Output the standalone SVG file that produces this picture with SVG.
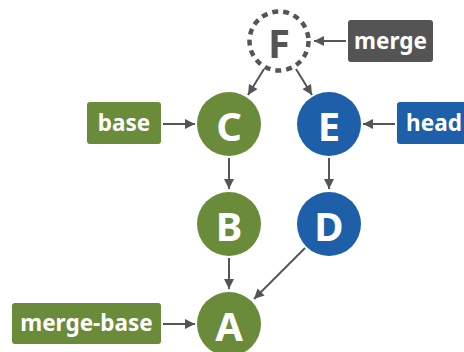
<svg xmlns="http://www.w3.org/2000/svg" width="464" height="352" viewBox="0 0 464 352">
  <style>
    .green { fill: #6a8b3a; }
    .blue { fill: #1e5fa9; }
    .gray { fill: #545454; }
    .node-label { font-family: "Noto Sans", "Open Sans", sans-serif; font-weight: 700; font-size: 40px; fill: #ffffff; text-anchor: middle; dominant-baseline: central; }
    .tag-label { font-family: "Noto Sans", "Open Sans", sans-serif; font-weight: 700; font-size: 22.5px; fill: #ffffff; text-anchor: middle; dominant-baseline: central; }
    .edge { stroke: #555555; stroke-width: 2; fill: none; marker-end: url(#arrow); }
  </style>
  <defs>
    <marker id="arrow" viewBox="0 0 10 10" refX="10" refY="5" markerWidth="5" markerHeight="5" orient="auto" markerUnits="strokeWidth">
      <path d="M0,0 L10,5 L0,10 Z" fill="#555555"/>
    </marker>
  </defs>

  <rect width="464" height="352" fill="#ffffff"/>

  <!-- connectors -->
  <g id="connectors">
    <line class="edge" x1="346" y1="41" x2="314" y2="41"/>
    <line class="edge" x1="264" y1="69" x2="248" y2="95"/>
    <line class="edge" x1="296" y1="69" x2="312" y2="95"/>
    <line class="edge" x1="163" y1="124" x2="195" y2="124"/>
    <line class="edge" x1="395" y1="124" x2="363" y2="124"/>
    <line class="edge" x1="229" y1="158" x2="229" y2="189"/>
    <line class="edge" x1="329" y1="158" x2="329" y2="189"/>
    <line class="edge" x1="229" y1="258" x2="229" y2="289"/>
    <line class="edge" x1="305" y1="248" x2="254" y2="299"/>
    <line class="edge" x1="163" y1="324" x2="195" y2="324"/>
  </g>

  <!-- commits -->
  <g id="node-F">
    <circle cx="279" cy="41" r="29.5" fill="#ffffff" stroke="#555555" stroke-width="4.5" stroke-dasharray="6 5"/>
    <text class="node-label" x="279" y="42" style="fill:#545454">F</text>
  </g>
  <g id="node-C">
    <circle class="green" cx="229" cy="124" r="32"/>
    <text class="node-label" x="229" y="125">C</text>
  </g>
  <g id="node-E">
    <circle class="blue" cx="329" cy="124" r="32"/>
    <text class="node-label" x="329" y="125">E</text>
  </g>
  <g id="node-B">
    <circle class="green" cx="229" cy="224" r="32"/>
    <text class="node-label" x="229" y="225">B</text>
  </g>
  <g id="node-D">
    <circle class="blue" cx="329" cy="224" r="32"/>
    <text class="node-label" x="329" y="225">D</text>
  </g>
  <g id="node-A">
    <circle class="green" cx="229" cy="324" r="32"/>
    <text class="node-label" x="229" y="325">A</text>
  </g>

  <!-- refs -->
  <g id="ref-merge">
    <rect class="gray" x="348" y="20" width="85" height="42" rx="3"/>
    <text class="tag-label" x="390.5" y="40">merge</text>
  </g>
  <g id="ref-base">
    <rect class="green" x="87" y="102" width="74" height="42" rx="3"/>
    <text class="tag-label" x="124" y="122">base</text>
  </g>
  <g id="ref-head">
    <rect class="blue" x="397" y="102" width="74" height="42" rx="3"/>
    <text class="tag-label" x="434" y="122">head</text>
  </g>
  <g id="ref-merge-base">
    <rect class="green" x="12" y="303" width="149" height="41" rx="3"/>
    <text class="tag-label" x="86.5" y="322">merge-base</text>
  </g>
</svg>
